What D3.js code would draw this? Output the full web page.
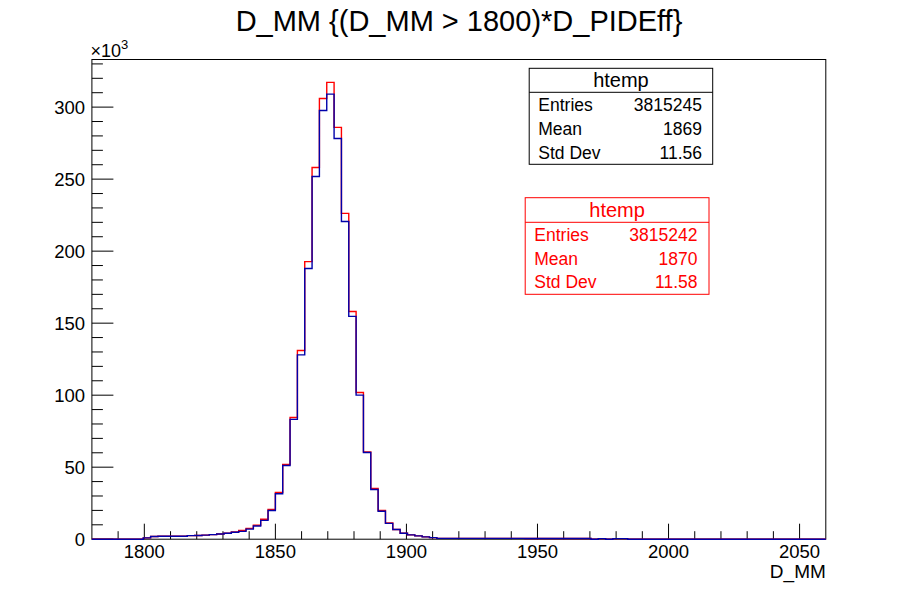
<!DOCTYPE html>
<html>
<head>
<meta charset="utf-8">
<script src="https://cdn.jsdelivr.net/npm/d3@7"></script>
<style>
  html, body { margin: 0; padding: 0; background: #fff; }
  svg { display: block; }
  text { font-family: "Liberation Sans", Arial, Helvetica, sans-serif; }
</style>
</head>
<body>
<div id="chart"></div>
<script>
// ---------------- data ----------------
const titleText = "D_MM {(D_MM > 1800)*D_PIDEff}";
const xAxisTitle = "D_MM";
const binLow = 1780;
const binHigh = 2060;
const binCount = 100;
// counts per bin, in thousands (x10^3)
const blueCounts = [
  0, 0, 0, 0, 0, 0, 0, 0.9, 1.9, 2.0,
  2.0, 2.0, 2.1, 2.5, 2.6, 2.8, 3.2, 3.6, 4.1, 4.8,
  5.4, 7.0, 9.2, 13.1, 19.9, 31.6, 51.2, 83.2, 128.0, 188.0,
  251.8, 297.7, 309.0, 278.2, 220.6, 154.7, 100.0, 60.2, 34.5, 19.4,
  11.0, 6.7, 4.1, 3.0, 2.3, 1.6, 1.1, 0.6, 0.6, 0.6,
  0.6, 0.6, 0.6, 0.6, 0.6, 0.6, 0.6, 0.6, 0.6, 0.5,
  0.5, 0.5, 0.5, 0.5, 0.5, 0.5, 0.5, 0.5, 0, 0.4,
  0, 0.4, 0.4, 0, 0, 0, 0, 0, 0, 0,
  0, 0, 0, 0, 0, 0, 0, 0, 0, 0,
  0, 0, 0, 0, 0, 0, 0, 0, 0, 0
];
const redCounts = [
  0, 0, 0, 0, 0, 0, 0, 0.9, 1.9, 2.0,
  2.0, 2.0, 2.1, 2.5, 2.6, 2.8, 3.2, 3.6, 4.1, 5.0,
  6.0, 7.5, 9.7, 13.9, 20.7, 32.5, 51.9, 84.5, 131.0, 192.7,
  258.1, 306.0, 317.2, 285.9, 226.2, 158.1, 101.9, 60.6, 35.2, 19.9,
  11.2, 6.7, 4.1, 3.0, 2.3, 1.6, 1.1, 0.6, 0.6, 0.6,
  0.6, 0.6, 0.6, 0.6, 0.6, 0.6, 0.6, 0.6, 0.6, 0.5,
  0.5, 0.5, 0.5, 0.5, 0.5, 0.5, 0.5, 0.5, 0, 0.4,
  0, 0.4, 0.4, 0, 0, 0, 0, 0, 0, 0,
  0, 0, 0, 0, 0, 0, 0, 0, 0, 0,
  0, 0, 0, 0, 0, 0, 0, 0, 0, 0
];
const xMajorTicks = [1800, 1850, 1900, 1950, 2000, 2050];
const yMajorTicks = [0, 50, 100, 150, 200, 250, 300];
const statsBlack = { name: "htemp", rows: [["Entries", "3815245"], ["Mean", "1869"], ["Std Dev", "11.56"]] };
const statsRed = { name: "htemp", rows: [["Entries", "3815242"], ["Mean", "1870"], ["Std Dev", "11.58"]] };

// ---------------- layout ----------------
const W = 918, H = 599;
const frame = { left: 91.9, right: 825.8, top: 59.5, bottom: 539.2 };
const yMax = d3.max(redCounts.concat(blueCounts)) * 1.05;

const svg = d3.select("#chart").append("svg").attr("width", W).attr("height", H);

const x = d3.scaleLinear().domain([binLow, binHigh]).range([frame.left, frame.right]);
const y = d3.scaleLinear().domain([0, yMax]).range([frame.bottom, frame.top]);
const binW = (binHigh - binLow) / binCount;

// title
svg.append("text").attr("x", 459).attr("y", 31).attr("text-anchor", "middle")
  .attr("font-size", 29).attr("fill", "#000").text(titleText);

// frame
svg.append("rect").attr("x", frame.left).attr("y", frame.top)
  .attr("width", frame.right - frame.left).attr("height", frame.bottom - frame.top)
  .attr("fill", "none").attr("stroke", "#000").attr("stroke-width", 1);

// x axis ticks
const xMinor = d3.range(1790, 2060, 10).filter(v => v % 50 !== 0);
const gx = svg.append("g");
gx.selectAll("line.maj").data(xMajorTicks).join("line")
  .attr("x1", d => x(d)).attr("x2", d => x(d))
  .attr("y1", frame.bottom).attr("y2", frame.bottom - 15.5)
  .attr("stroke", "#000").attr("stroke-width", 1);
gx.selectAll("line.min").data(xMinor).join("line")
  .attr("x1", d => x(d)).attr("x2", d => x(d))
  .attr("y1", frame.bottom).attr("y2", frame.bottom - 8)
  .attr("stroke", "#000").attr("stroke-width", 1);
gx.selectAll("text").data(xMajorTicks).join("text")
  .attr("x", d => x(d)).attr("y", 558).attr("text-anchor", "middle")
  .attr("font-size", 18.5).text(d => d);

// y axis ticks
const yMinor = d3.range(10, 331, 10).filter(v => v % 50 !== 0);
const gy = svg.append("g");
gy.selectAll("line.maj").data(yMajorTicks).join("line")
  .attr("x1", frame.left).attr("x2", frame.left + 21.5)
  .attr("y1", d => y(d)).attr("y2", d => y(d))
  .attr("stroke", "#000").attr("stroke-width", 1);
gy.selectAll("line.min").data(yMinor).join("line")
  .attr("x1", frame.left).attr("x2", frame.left + 11)
  .attr("y1", d => y(d)).attr("y2", d => y(d))
  .attr("stroke", "#000").attr("stroke-width", 1);
gy.selectAll("text").data(yMajorTicks).join("text")
  .attr("x", 85).attr("y", d => y(d) + 6.7).attr("text-anchor", "end")
  .attr("font-size", 18.5).text(d => d);

// x10^3
const mult = svg.append("text").attr("x", 90.5).attr("y", 57).attr("font-size", 18);
mult.append("tspan").text("\u00d710");
mult.append("tspan").attr("dy", -8).attr("font-size", 13).text("3");

// axis title
svg.append("text").attr("x", frame.right).attr("y", 577.5).attr("text-anchor", "end")
  .attr("font-size", 19).text(xAxisTitle);

// histograms
function histPath(counts) {
  const pts = counts.map((v, i) => [binLow + i * binW, v]);
  pts.push([binHigh, counts[counts.length - 1]]);
  return d3.line().x(d => x(d[0])).y(d => y(d[1])).curve(d3.curveStepAfter)(pts);
}
svg.append("path").attr("d", histPath(redCounts))
  .attr("fill", "none").attr("stroke", "#ff0000").attr("stroke-width", 1.4);
svg.append("path").attr("d", histPath(blueCounts))
  .attr("fill", "none").attr("stroke", "#0000aa").attr("stroke-width", 1.4);

// stats boxes
function statsBox(st, box, color) {
  const g = svg.append("g");
  g.append("rect").attr("x", box.x0).attr("y", box.y0)
    .attr("width", box.x1 - box.x0).attr("height", box.y1 - box.y0)
    .attr("fill", "#fff").attr("stroke", color).attr("stroke-width", 1);
  g.append("line").attr("x1", box.x0).attr("x2", box.x1)
    .attr("y1", box.sep).attr("y2", box.sep).attr("stroke", color).attr("stroke-width", 1);
  g.append("text").attr("x", (box.x0 + box.x1) / 2).attr("y", box.titleY)
    .attr("text-anchor", "middle").attr("font-size", 20).attr("fill", color).text(st.name);
  st.rows.forEach((r, i) => {
    g.append("text").attr("x", box.tl).attr("y", box.rowY[i]).attr("font-size", 17.5)
      .attr("fill", color).text(r[0]);
    g.append("text").attr("x", box.tr).attr("y", box.rowY[i]).attr("font-size", 17.5)
      .attr("text-anchor", "end").attr("fill", color).text(r[1]);
  });
}
statsBox(statsBlack, { x0: 529.2, x1: 712.7, y0: 68.3, y1: 164.3, sep: 92.3, titleY: 86.5,
  tl: 538.3, tr: 702, rowY: [111, 135, 159] }, "#000");
statsBox(statsRed, { x0: 525.2, x1: 709, y0: 197.7, y1: 294.3, sep: 222.3, titleY: 216.5,
  tl: 534.3, tr: 697.5, rowY: [240.7, 264.5, 288.3] }, "#ff0000");
</script>
</body>
</html>
